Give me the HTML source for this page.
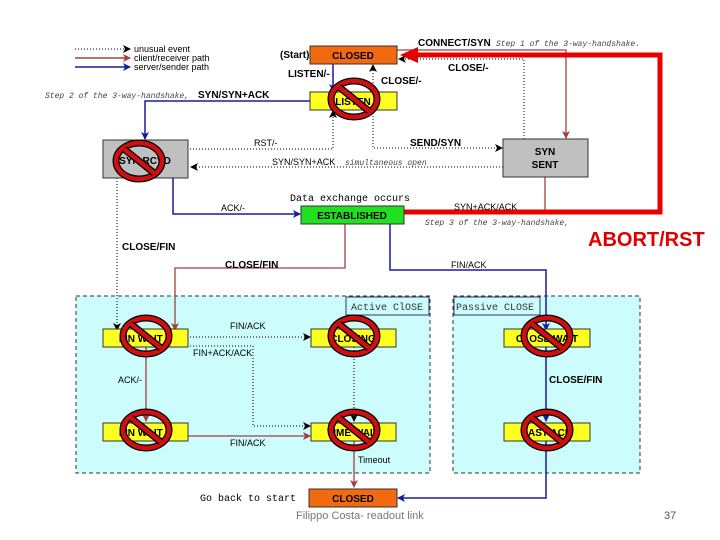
<!DOCTYPE html>
<html><head><meta charset="utf-8"><style>
body{margin:0;background:#fff}
svg{display:block}
text{font-family:"Liberation Sans",sans-serif}
.b{font-weight:bold;font-size:10px}
.s{font-size:9px}
.m{font-family:"Liberation Mono",monospace;font-size:10px}
.mi{font-family:"Liberation Mono",monospace;font-size:8px;font-style:italic;fill:#444}
</style></head><body>
<svg width="720" height="540" viewBox="0 0 720 540" xmlns="http://www.w3.org/2000/svg">
<defs>
<marker id="ab" markerWidth="8" markerHeight="8" refX="7" refY="4" orient="auto" markerUnits="userSpaceOnUse"><path d="M0,0 L8,4 L0,8 L2,4z" fill="#1a1aa0"/></marker>
<marker id="ar" markerWidth="8" markerHeight="8" refX="7" refY="4" orient="auto" markerUnits="userSpaceOnUse"><path d="M0,0 L8,4 L0,8 L2,4z" fill="#a04040"/></marker>
<marker id="ak" markerWidth="8" markerHeight="8" refX="7" refY="4" orient="auto" markerUnits="userSpaceOnUse"><path d="M0,0 L8,4 L0,8 L2,4z" fill="#000"/></marker>
<g id="no"><ellipse cx="0" cy="0" rx="23" ry="18" fill="none" stroke="#000" stroke-width="7"/><ellipse cx="0" cy="0" rx="23" ry="18" fill="none" stroke="#d01010" stroke-width="4.5"/><line x1="-15" y1="-12" x2="15" y2="12" stroke="#000" stroke-width="7"/><line x1="-15" y1="-12" x2="15" y2="12" stroke="#d01010" stroke-width="4.5"/></g>
</defs>

<rect x="76" y="296" width="354" height="177" fill="#ccfcfc" stroke="#333" stroke-dasharray="4,3"/>
<rect x="453" y="296" width="187" height="177" fill="#ccfcfc" stroke="#333" stroke-dasharray="4,3"/>
<rect x="346" y="297" width="83" height="18" fill="#ccfcfc" stroke="#336"/>
<text x="351" y="310" class="m" fill="#333">Active ClOSE</text>
<rect x="454" y="297" width="86" height="18" fill="#ccfcfc" stroke="#336"/>
<text x="456" y="310" class="m" fill="#333">Passive CLOSE</text>

<line x1="75" y1="49" x2="130" y2="49" stroke="#000" stroke-dasharray="1,2" marker-end="url(#ak)"/>
<line x1="75" y1="58" x2="130" y2="58" stroke="#a04040" stroke-width="1.5" marker-end="url(#ar)"/>
<line x1="75" y1="67" x2="130" y2="67" stroke="#1a1aa0" stroke-width="1.5" marker-end="url(#ab)"/>
<text x="134" y="52" class="s">unusual event</text>
<text x="134" y="61" class="s">client/receiver path</text>
<text x="134" y="70" class="s">server/sender path</text>

<polyline points="397,50 566,50 566,138" fill="none" stroke="#a04040" stroke-width="1.3" marker-end="url(#ar)"/>
<polyline points="524,139 524,59 399,59" fill="none" stroke="#000" stroke-dasharray="1,2" marker-end="url(#ak)"/>
<line x1="333" y1="64" x2="333" y2="91" stroke="#1a1aa0" stroke-width="1.5" marker-end="url(#ab)"/>
<line x1="373" y1="92" x2="373" y2="65" stroke="#000" stroke-dasharray="1,2" marker-end="url(#ak)"/>
<polyline points="373,110 373,148 502,148" fill="none" stroke="#000" stroke-dasharray="1,2" marker-end="url(#ak)"/>
<polyline points="190,149 333,149 333,111" fill="none" stroke="#000" stroke-dasharray="1,2" marker-end="url(#ak)"/>
<line x1="503" y1="167" x2="191" y2="167" stroke="#000" stroke-dasharray="1,2" marker-end="url(#ak)"/>
<polyline points="310,101 145,101 145,139" fill="none" stroke="#1a1aa0" stroke-width="1.5" marker-end="url(#ab)"/>
<polyline points="173,178 173,214 300,214" fill="none" stroke="#1a1aa0" stroke-width="1.5" marker-end="url(#ab)"/>
<line x1="545" y1="177" x2="545" y2="212" stroke="#a04040" stroke-width="1.3"/>
<line x1="117" y1="178" x2="117" y2="330" stroke="#000" stroke-dasharray="1,2" marker-end="url(#ak)"/>
<polyline points="345,224 345,268 175,268 175,330" fill="none" stroke="#a04040" stroke-width="1.3" marker-end="url(#ar)"/>
<polyline points="390,224 390,270 546,270 546,330" fill="none" stroke="#1a1aa0" stroke-width="1.5" marker-end="url(#ab)"/>

<polyline points="404,212 660,212 660,55 418,55" fill="none" stroke="#e80000" stroke-width="5"/>
<path d="M400,55 L418,47 L418,63z" fill="#e80000"/>
<text x="588" y="246" font-size="20" font-weight="bold" fill="#e00000">ABORT/RST</text>

<line x1="190" y1="337" x2="310" y2="337" stroke="#000" stroke-dasharray="1,2" marker-end="url(#ak)"/>
<polyline points="190,346 253,346 253,426 310,426" fill="none" stroke="#000" stroke-dasharray="1,2" marker-end="url(#ak)"/>
<line x1="146" y1="347" x2="146" y2="421" stroke="#a04040" stroke-width="1.3" marker-end="url(#ar)"/>
<line x1="354" y1="347" x2="354" y2="421" stroke="#000" stroke-dasharray="1,2" marker-end="url(#ak)"/>
<line x1="188" y1="436" x2="310" y2="436" stroke="#a04040" stroke-width="1.3" marker-end="url(#ar)"/>
<line x1="354" y1="441" x2="354" y2="487" stroke="#a04040" stroke-width="1.3" marker-end="url(#ar)"/>
<line x1="546" y1="347" x2="546" y2="421" stroke="#1a1aa0" stroke-width="1.5" marker-end="url(#ab)"/>
<polyline points="546,441 546,498 398,498" fill="none" stroke="#1a1aa0" stroke-width="1.5" marker-end="url(#ab)"/>

<rect x="310" y="46" width="87" height="18" fill="#f26a10" stroke="#333"/>
<text x="353" y="59" class="b" text-anchor="middle">CLOSED</text>
<rect x="310" y="92" width="87" height="18" fill="#ffff20" stroke="#333"/>
<text x="353" y="105" class="b" text-anchor="middle">LISTEN</text>
<rect x="103" y="140" width="85" height="38" fill="#c0c0c0" stroke="#333"/>
<text x="145" y="164" class="b" text-anchor="middle">SYN RCVD</text>
<rect x="503" y="139" width="85" height="38" fill="#c0c0c0" stroke="#333"/>
<text x="545" y="155" class="b" text-anchor="middle">SYN</text>
<text x="545" y="168" class="b" text-anchor="middle">SENT</text>
<rect x="301" y="206" width="103" height="18" fill="#20e020" stroke="#333"/>
<text x="352" y="219" class="b" text-anchor="middle">ESTABLISHED</text>
<rect x="103" y="329" width="85" height="18" fill="#ffff20" stroke="#333"/>
<text x="145" y="342" class="b" text-anchor="middle">FIN WAIT 1</text>
<rect x="311" y="329" width="85" height="18" fill="#ffff20" stroke="#333"/>
<text x="353" y="342" class="b" text-anchor="middle">CLOSING</text>
<rect x="504" y="329" width="86" height="18" fill="#ffff20" stroke="#333"/>
<text x="547" y="342" class="b" text-anchor="middle">CLOSE WAIT</text>
<rect x="103" y="423" width="85" height="18" fill="#ffff20" stroke="#333"/>
<text x="145" y="436" class="b" text-anchor="middle">FIN WAIT 2</text>
<rect x="311" y="423" width="85" height="18" fill="#ffff20" stroke="#333"/>
<text x="353" y="436" class="b" text-anchor="middle">TIME WAIT</text>
<rect x="504" y="423" width="86" height="18" fill="#ffff20" stroke="#333"/>
<text x="547" y="436" class="b" text-anchor="middle">LAST ACK</text>
<rect x="309" y="489" width="88" height="18" fill="#f26a10" stroke="#333"/>
<text x="353" y="502" class="b" text-anchor="middle">CLOSED</text>

<use href="#no" x="354" y="99"/>
<use href="#no" x="139" y="161"/>
<use href="#no" x="146" y="336"/>
<use href="#no" x="354" y="336"/>
<use href="#no" x="547" y="336"/>
<use href="#no" x="146" y="430"/>
<use href="#no" x="354" y="430"/>
<use href="#no" x="547" y="430"/>

<text x="280" y="58" class="b">(Start)</text>
<text x="418" y="46" class="b">CONNECT/SYN</text>
<text x="496" y="46" class="mi">Step 1 of the 3-way-handshake.</text>
<text x="288" y="77" class="b">LISTEN/-</text>
<text x="381" y="84" class="b">CLOSE/-</text>
<text x="448" y="71" class="b">CLOSE/-</text>
<text x="45" y="98" class="mi">Step 2 of the 3-way-handshake,</text>
<text x="198" y="98" class="b">SYN/SYN+ACK</text>
<text x="254" y="146" class="s">RST/-</text>
<text x="410" y="146" class="b">SEND/SYN</text>
<text x="272" y="165" class="s">SYN/SYN+ACK</text>
<text x="345" y="165" class="mi">simultaneous open</text>
<text x="290" y="201" class="m">Data exchange occurs</text>
<text x="221" y="211" class="s">ACK/-</text>
<text x="454" y="210" class="s">SYN+ACK/ACK</text>
<text x="425" y="225" class="mi">Step 3 of the 3-way-handshake,</text>
<text x="122" y="250" class="b">CLOSE/FIN</text>
<text x="225" y="268" class="b">CLOSE/FIN</text>
<text x="451" y="268" class="s">FIN/ACK</text>
<text x="230" y="329" class="s">FIN/ACK</text>
<text x="193" y="356" class="s">FIN+ACK/ACK</text>
<text x="118" y="383" class="s">ACK/-</text>
<text x="549" y="383" class="b">CLOSE/FIN</text>
<text x="230" y="446" class="s">FIN/ACK</text>
<text x="358" y="463" class="s">Timeout</text>
<text x="200" y="501" class="m">Go back to start</text>
<text x="296" y="519" font-size="11" fill="#777">Filippo Costa- readout link</text>
<text x="664" y="519" font-size="11" fill="#555">37</text>
</svg>
</body></html>
